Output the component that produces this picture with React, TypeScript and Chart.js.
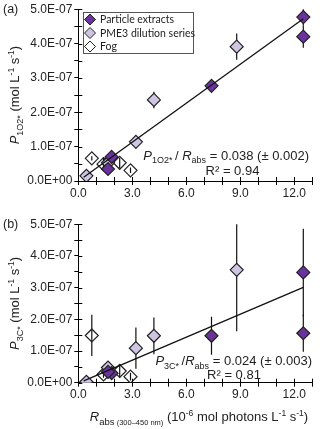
import React, { useEffect, useRef } from 'react';
import { Chart, registerables } from 'chart.js';
Chart.register(...registerables);

// ---------- data (x: Rabs in 1e-6 mol photons L-1 s-1) ----------
const seriesNames = ['Particle extracts', 'PME3 dilution series', 'Fog'];

const particleX = [12.5, 12.5, 7.4, 1.85, 1.65];
const particleA = [4.77e-7, 4.2e-7, 2.77e-7, 0.7e-7, 0.35e-7];
const particleAErr = [0.25e-7, 0.32e-7, 0.08e-7, 0.09e-7, 0.07e-7];
const particleB = [3.48e-7, 1.56e-7, 1.48e-7, 0.3e-7, 0.34e-7];
const particleBErr = [1.38e-7, 0.58e-7, 0.6e-7, 0.1e-7, 0.1e-7];

const pmeX = [8.8, 4.2, 3.2, 1.65, 0.45];
const pmeA = [3.91e-7, 2.36e-7, 1.14e-7, 0.53e-7, 0.15e-7];
const pmeAErr = [0.38e-7, 0.24e-7, 0.08e-7, 0.07e-7, 0.04e-7];
const pmeB = [3.56e-7, 1.48e-7, 1.09e-7, 0.48e-7, 0.03e-7];
const pmeBErr = [1.94e-7, 0.58e-7, 0.65e-7, 0.2e-7, 0.03e-7];

const fogX = [0.75, 1.4, 2.3, 2.9];
const fogA = [0.66e-7, 0.49e-7, 0.53e-7, 0.31e-7];
const fogAErr = [0.06e-7, 0.2e-7, 0.15e-7, 0.08e-7];
const fogB = [1.49e-7, 0.26e-7, 0.37e-7, 0.19e-7];
const fogBErr = [0.65e-7, 0.1e-7, 0.22e-7, 0.12e-7];

const trendAX = [0.3, 12.5];
const trendAY = [0.11e-7, 4.72e-7];
const trendBX = [0.3, 12.5];
const trendBY = [0.06e-7, 3.01e-7];

const xTickValues = [0, 1, 2, 3, 4, 5, 6, 7, 8, 9, 10, 11, 12, 13];
const xMajor = [0, 3, 6, 9, 12];
const xTickLabels = ['0.0', '3.0', '6.0', '9.0', '12.0'];
const yTickValues = [0, 0.5e-7, 1e-7, 1.5e-7, 2e-7, 2.5e-7, 3e-7, 3.5e-7, 4e-7, 4.5e-7, 5e-7];
const yMajor = [0, 1e-7, 2e-7, 3e-7, 4e-7, 5e-7];
const yTickLabels = ['0.0E+00', '1.0E-07', '2.0E-07', '3.0E-07', '4.0E-07', '5.0E-07'];

const colors = ['#6a329c', '#cfc5e3', 'rgba(255,255,255,0)'];
const FONT = '"Liberation Sans", Arial, sans-serif';

type Seg = { t: string; it?: boolean; sub?: boolean; sup?: boolean; size?: number };

function segFont(s: Seg, base: number) {
  const size = s.size ?? (s.sub || s.sup ? base * 0.7 : base);
  return `${s.it ? 'italic ' : ''}${size}px ${FONT}`;
}
function richWidth(ctx: CanvasRenderingContext2D, segs: Seg[], base: number) {
  let w = 0;
  for (const s of segs) {
    ctx.font = segFont(s, base);
    w += ctx.measureText(s.t).width;
  }
  return w;
}
function drawRich(ctx: CanvasRenderingContext2D, segs: Seg[], x: number, y: number, align: string, base: number) {
  const w = richWidth(ctx, segs, base);
  let cx = align === 'center' ? x - w / 2 : align === 'right' ? x - w : x;
  ctx.textAlign = 'left';
  ctx.textBaseline = 'alphabetic';
  ctx.fillStyle = '#222';
  for (const s of segs) {
    ctx.font = segFont(s, base);
    const dy = s.sub ? base * 0.3 : s.sup ? -base * 0.4 : 0;
    ctx.fillText(s.t, cx, y + dy);
    cx += ctx.measureText(s.t).width;
  }
}

const errorBarPlugin = {
  id: 'errbars',
  beforeDatasetsDraw(chart: any) {
    const { ctx, chartArea, scales } = chart;
    const x = scales.x, y = scales.y;
    ctx.save();
    ctx.beginPath();
    ctx.rect(chartArea.left - 10, chartArea.top, chartArea.width + 20, chartArea.height);
    ctx.clip();
    ctx.strokeStyle = '#111';
    ctx.lineWidth = 1.2;
    chart.data.datasets.forEach((ds: any) => {
      if (!ds.errs) return;
      ds.data.forEach((p: any, i: number) => {
        const px = x.getPixelForValue(p.x);
        const y0 = y.getPixelForValue(p.y - ds.errs[i]);
        const y1 = y.getPixelForValue(p.y + ds.errs[i]);
        ctx.beginPath();
        ctx.moveTo(px, y0);
        ctx.lineTo(px, y1);
        ctx.stroke();
      });
    });
    ctx.restore();
  },
};

const innerTicksPlugin = {
  id: 'innerticks',
  afterDraw(chart: any) {
    const { ctx, chartArea, scales } = chart;
    ctx.save();
    ctx.strokeStyle = '#000';
    ctx.lineWidth = 1;
    scales.x.ticks.forEach((t: any) => {
      const px = Math.round(scales.x.getPixelForValue(t.value)) + 0.5;
      ctx.beginPath();
      ctx.moveTo(px, chartArea.bottom);
      ctx.lineTo(px, chartArea.bottom - 4);
      ctx.stroke();
    });
    scales.y.ticks.forEach((t: any) => {
      const py = Math.round(scales.y.getPixelForValue(t.value)) + 0.5;
      ctx.beginPath();
      ctx.moveTo(chartArea.left, py);
      ctx.lineTo(chartArea.left + 4, py);
      ctx.stroke();
    });
    ctx.restore();
  },
};

function legendPlugin() {
  return {
    id: 'boxlegend',
    afterDraw(chart: any) {
      const { ctx } = chart;
      ctx.save();
      ctx.strokeStyle = '#555';
      ctx.lineWidth = 1;
      ctx.strokeRect(83.5, 12.5, 110, 41);
      ctx.font = `10.5px Lato, "Open Sans", sans-serif`;
      ctx.textBaseline = 'middle';
      ctx.textAlign = 'left';
      seriesNames.forEach((name, i) => {
        const cy = 19.5 + i * 13.5;
        const cx = 90;
        const r = 5.5;
        ctx.beginPath();
        ctx.moveTo(cx, cy - r);
        ctx.lineTo(cx + r, cy);
        ctx.lineTo(cx, cy + r);
        ctx.lineTo(cx - r, cy);
        ctx.closePath();
        ctx.fillStyle = i === 2 ? '#fff' : colors[i];
        ctx.fill();
        ctx.strokeStyle = '#222';
        ctx.stroke();
        ctx.fillStyle = '#222';
        ctx.fillText(name, 100, cy + 0.5);
      });
      ctx.restore();
    },
  };
}

function textPlugin(panel: 'a' | 'b') {
  return {
    id: 'texts' + panel,
    afterDraw(chart: any) {
      const { ctx, chartArea } = chart;
      ctx.save();
      const midY = (chartArea.top + chartArea.bottom) / 2;
      if (panel === 'a') {
        drawRich(ctx, [{ t: '(a)' }], 3, 13, 'left', 12.5);
        drawRich(
          ctx,
          [
            { t: 'P', it: true },
            { t: '1O2* ', sub: true, size: 9 },
            { t: '/ ' },
            { t: 'R', it: true },
            { t: 'abs', sub: true, size: 9 },
            { t: ' = 0.038 (± 0.002)' },
          ],
          309,
          159.5,
          'right',
          13
        );
        drawRich(ctx, [{ t: 'R² = 0.94' }], 232.5, 174.5, 'center', 13);
        ctx.translate(19, midY);
        ctx.rotate(-Math.PI / 2);
        drawRich(
          ctx,
          [
            { t: 'P', it: true },
            { t: '1O2*', sub: true, size: 9 },
            { t: ' (mol L' },
            { t: '-1', sup: true, size: 8.5 },
            { t: ' s' },
            { t: '-1', sup: true, size: 8.5 },
            { t: ')' },
          ],
          0,
          0,
          'center',
          13
        );
      } else {
        drawRich(ctx, [{ t: '(b)' }], 3, 13, 'left', 12.5);
        drawRich(
          ctx,
          [
            { t: 'P', it: true },
            { t: '3C* ', sub: true, size: 9 },
            { t: '/' },
            { t: 'R', it: true },
            { t: 'abs', sub: true, size: 9 },
            { t: ' = 0.024 (± 0.003)' },
          ],
          312,
          150,
          'right',
          13
        );
        drawRich(ctx, [{ t: 'R² = 0.81' }], 234, 163.5, 'center', 13);
        drawRich(
          ctx,
          [
            { t: 'R', it: true },
            { t: 'abs', sub: true, size: 9.5 },
            { t: ' (300–450 nm)', sub: true, size: 7.5 },
            { t: ' (10' },
            { t: '-6', sup: true, size: 8.5 },
            { t: ' mol photons L' },
            { t: '-1', sup: true, size: 8.5 },
            { t: ' s' },
            { t: '-1', sup: true, size: 8.5 },
            { t: ')' },
          ],
          199,
          206,
          'center',
          13
        );
        ctx.translate(19, midY);
        ctx.rotate(-Math.PI / 2);
        drawRich(
          ctx,
          [
            { t: 'P', it: true },
            { t: '3C*', sub: true, size: 9 },
            { t: ' (mol L' },
            { t: '-1', sup: true, size: 8.5 },
            { t: ' s' },
            { t: '-1', sup: true, size: 8.5 },
            { t: ')' },
          ],
          0,
          0,
          'center',
          13
        );
      }
      ctx.restore();
    },
  };
}

function pts(xs: number[], ys: number[]) {
  return xs.map((x, i) => ({ x, y: ys[i] }));
}

function buildConfig(panel: 'a' | 'b') {
  const isA = panel === 'a';
  const scatterDs = (i: number, xs: number[], ys: number[], errs: number[]) => ({
    type: 'scatter',
    label: seriesNames[i],
    data: pts(xs, ys),
    errs,
    pointStyle: 'rectRot',
    pointRadius: 6.5,
    pointHoverRadius: 6.5,
    backgroundColor: colors[i],
    borderColor: '#222',
    borderWidth: 1.2,
  });
  return {
    type: 'scatter',
    data: {
      datasets: [
        {
          type: 'line',
          label: 'trend',
          data: isA ? pts(trendAX, trendAY) : pts(trendBX, trendBY),
          borderColor: '#111',
          borderWidth: 1.3,
          pointRadius: 0,
          fill: false,
        },
        scatterDs(0, particleX, isA ? particleA : particleB, isA ? particleAErr : particleBErr),
        scatterDs(1, pmeX, isA ? pmeA : pmeB, isA ? pmeAErr : pmeBErr),
        scatterDs(2, fogX, isA ? fogA : fogB, isA ? fogAErr : fogBErr),
      ],
    },
    options: {
      animation: false,
      responsive: false,
      maintainAspectRatio: false,
      layout: { padding: { top: isA ? 8 : 7.2, right: 3.3, left: 0, bottom: 0 } },
      plugins: { legend: { display: false }, tooltip: { enabled: false } },
      scales: {
        x: {
          type: 'linear',
          min: 0,
          max: 13,
          afterFit: (s: any) => {
            s.height = isA ? 34 : 46.3;
          },
          afterBuildTicks: (s: any) => {
            s.ticks = xTickValues.map((v) => ({ value: v }));
          },
          grid: { display: true, drawOnChartArea: false, drawTicks: true, tickLength: 4, color: '#000', lineWidth: 1 },
          border: { display: true, color: '#000', width: 1 },
          ticks: {
            autoSkip: false,
            maxRotation: 0,
            padding: 1,
            color: '#222',
            font: { family: FONT, size: 12 },
            callback: (v: any) => {
              const k = xMajor.findIndex((m) => Math.abs(m - v) < 1e-9);
              return k >= 0 ? xTickLabels[k] : '';
            },
          },
        },
        y: {
          type: 'linear',
          min: 0,
          max: 5e-7,
          afterFit: (s: any) => {
            s.width = 78.3;
          },
          afterBuildTicks: (s: any) => {
            s.ticks = yTickValues.map((v) => ({ value: v }));
          },
          grid: { display: true, drawOnChartArea: false, drawTicks: true, tickLength: 4, color: '#000', lineWidth: 1 },
          border: { display: true, color: '#000', width: 1 },
          ticks: {
            autoSkip: false,
            padding: 2,
            color: '#222',
            font: { family: FONT, size: 12 },
            callback: (v: any) => {
              const k = yMajor.findIndex((m) => Math.abs(m - v) < 1e-12);
              return k >= 0 ? yTickLabels[k] : '';
            },
          },
        },
      },
    },
    plugins: isA
      ? [errorBarPlugin, innerTicksPlugin, textPlugin('a'), legendPlugin()]
      : [errorBarPlugin, innerTicksPlugin, textPlugin('b')],
  };
}

function Panel({ panel, top, height }: { panel: 'a' | 'b'; top: number; height: number }) {
  const ref = useRef<HTMLCanvasElement>(null);
  useEffect(() => {
    if (!ref.current) return;
    const chart = new Chart(ref.current, buildConfig(panel) as any);
    return () => chart.destroy();
  }, [panel]);
  return (
    <canvas
      ref={ref}
      width={320}
      height={height}
      style={{ position: 'absolute', left: 0, top, width: 320, height }}
    />
  );
}

export default function App() {
  return (
    <div style={{ position: 'absolute', left: 0, top: 0, width: 320, height: 429, background: '#fff', overflow: 'hidden' }}>
      <Panel panel="a" top={0} height={215} />
      <Panel panel="b" top={215} height={214} />
    </div>
  );
}
